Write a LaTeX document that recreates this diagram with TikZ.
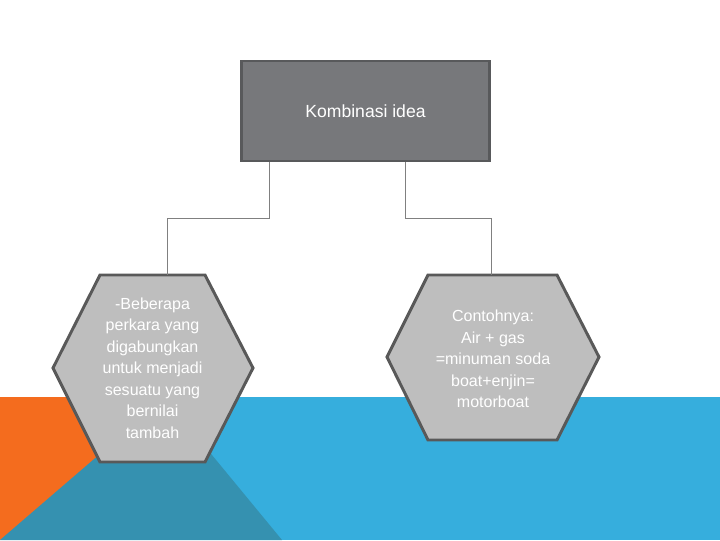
\documentclass[tikz,border=0pt]{standalone}
\usepackage{fontspec}
\setmainfont{Liberation Sans}
\usepackage{tikz}
\usetikzlibrary{positioning, calc}
\definecolor{boxgray}{RGB}{119,120,123}
\definecolor{boxedge}{RGB}{88,89,91}
\definecolor{hexgray}{RGB}{190,190,190}
\definecolor{hexedge}{RGB}{89,89,89}
\definecolor{linkgray}{RGB}{128,128,128}
\definecolor{bgorange}{RGB}{244,108,30}
\definecolor{bgblue}{RGB}{54,174,221}
\definecolor{bgteal}{RGB}{53,145,176}

\begin{document}
\begin{tikzpicture}[
    x=0.025cm, y=-0.025cm,
    ideabox/.style={rectangle, draw=boxedge, fill=boxgray, line width=2.1pt, minimum width=6.2cm, minimum height=2.5cm, align=center, text=white, font=\fontsize{12.5}{15}\selectfont},
    hexbox/.style={draw=hexedge, fill=hexgray, line width=2.1pt, line join=miter},
    hextext/.style={align=center, text=white, font=\fontsize{11.4}{15.3}\selectfont, inner sep=0pt},
    link/.style={draw=linkgray, line width=0.7pt},
]
\useasboundingbox (0,0) rectangle (720,540);

\fill[bgorange] (0,397) rectangle (170,540);
\fill[bgblue] (165,397) rectangle (720,540);
\fill[bgteal] (0,540) -- (165,398) -- (282,540) -- cycle;

\node[ideabox] (idea) at (365.5,111) {Kombinasi idea};

\draw[hexbox] (100,275) -- (205,275) -- (253,368) -- (205,462) -- (100,462) -- (53,368) -- cycle;
\draw[hexbox] (428,275) -- (557,275) -- (599,357) -- (557,440) -- (428,440) -- (387,357) -- cycle;

\node[hextext] (takrif) at (152.5,368) {-Beberapa\\perkara yang\\digabungkan\\untuk menjadi\\sesuatu yang\\bernilai\\tambah};
\node[hextext] (contoh) at (493,359) {Contohnya:\\Air + gas\\=minuman soda\\boat+enjin=\\motorboat};

\coordinate (takrifTop) at (167,275);
\coordinate (contohTop) at (491,275);

\draw[link] ([xshift=-2.41cm]idea.south) -- ++(0,56) -| (takrifTop);
\draw[link] ([xshift=0.99cm]idea.south) -- ++(0,56) -| (contohTop);

\end{tikzpicture}
\end{document}
